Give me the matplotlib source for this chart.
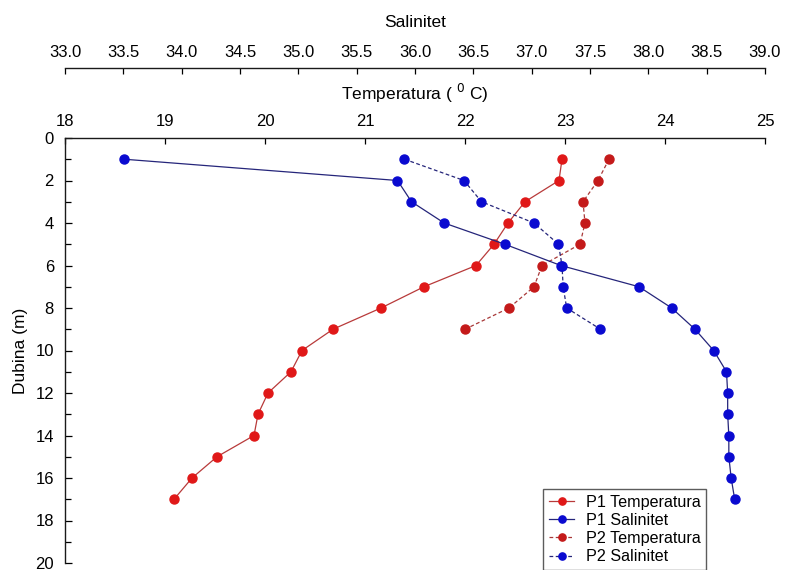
import matplotlib
matplotlib.use("Agg")
import matplotlib.pyplot as plt
from matplotlib.ticker import MultipleLocator

plt.rcParams['font.family'] = ['Liberation Sans', 'DejaVu Sans']

# Depth profiles (m)
depth_p1 = [1, 2, 3, 4, 5, 6, 7, 8, 9, 10, 11, 12, 13, 14, 15, 16, 17]
depth_p2 = [1, 2, 3, 4, 5, 6, 7, 8, 9]

# Temperature (deg C)
temp_p1 = [22.97, 22.94, 22.60, 22.43, 22.29, 22.11, 21.59, 21.16, 20.68,
           20.37, 20.26, 20.03, 19.93, 19.89, 19.52, 19.27, 19.09]
temp_p2 = [23.44, 23.33, 23.18, 23.20, 23.15, 22.77, 22.69, 22.44, 22.00]

# Salinity
sal_p1 = [33.51, 35.85, 35.97, 36.25, 36.77, 37.25, 37.92, 38.20, 38.40,
          38.56, 38.67, 38.68, 38.68, 38.69, 38.69, 38.71, 38.74]
sal_p2 = [35.91, 36.42, 36.57, 37.02, 37.23, 37.26, 37.27, 37.30, 37.59]

temp_ticks = [18, 19, 20, 21, 22, 23, 24, 25]
sal_ticks = [33.0, 33.5, 34.0, 34.5, 35.0, 35.5, 36.0, 36.5, 37.0, 37.5,
             38.0, 38.5, 39.0]
depth_ticks = [0, 2, 4, 6, 8, 10, 12, 14, 16, 18, 20]

W, H = 785, 570
fig = plt.figure(figsize=(W / 100, H / 100), dpi=100)
left, right, top, bottom = 65, 765, 138, 563
ax = fig.add_axes([left / W, 1 - bottom / H, (right - left) / W, (bottom - top) / H])
# Salinity axis sits above the temperature axis
ax2 = ax.twiny()

red1 = '#e01818'
red2 = '#c41a1a'
blue = '#0a0ad0'
line_red1 = '#b83a3a'
line_red2 = '#a83838'
line_blue = '#25257a'
ms = 6.5

lt1, = ax.plot(temp_p1, depth_p1, '-', color=line_red1, lw=0.9,
               marker='o', ms=ms, mfc=red1, mec=red1, label='P1 Temperatura')
lt2, = ax.plot(temp_p2, depth_p2, '--', color=line_red2, lw=0.9, dashes=(3, 2),
               marker='o', ms=ms, mfc=red2, mec=red2, label='P2 Temperatura')
ls1, = ax2.plot(sal_p1, depth_p1, '-', color=line_blue, lw=0.9,
                marker='o', ms=ms, mfc=blue, mec=blue, label='P1 Salinitet')
ls2, = ax2.plot(sal_p2, depth_p2, '--', color=line_blue, lw=0.9, dashes=(3, 2),
                marker='o', ms=ms, mfc=blue, mec=blue, label='P2 Salinitet')

tick_fs = 12
label_fs = 12.5

# Temperature axis (top spine of the main axes)
ax.set_xlim(18, 25)
ax.set_ylim(20, 0)
ax.set_xticks(temp_ticks)
ax.set_yticks(depth_ticks)
ax.yaxis.set_minor_locator(MultipleLocator(1))
ax.xaxis.tick_top()
ax.xaxis.set_label_position('top')
ax.set_xlabel('Temperatura ( $^0$ C)', fontsize=label_fs, labelpad=10)
ax.set_ylabel('Dubina (m)', fontsize=label_fs, labelpad=5)
for s in ('right', 'bottom'):
    ax.spines[s].set_visible(False)
ax.tick_params(axis='x', which='both', direction='in', length=4, width=0.9,
               labelsize=tick_fs, pad=6.5, top=True, bottom=False,
               labeltop=True, labelbottom=False)
ax.tick_params(axis='y', which='major', direction='in', length=5, width=0.9,
               labelsize=tick_fs, pad=8)
ax.tick_params(axis='y', which='minor', direction='in', length=4, width=0.9)

# Salinity axis
ax2.set_xlim(33, 39)
ax2.set_ylim(20, 0)
ax2.set_xticks(sal_ticks)
ax2.set_xticklabels([f'{v:.1f}' for v in sal_ticks])
ax2.spines['top'].set_position(('axes', 1 + 70 / (bottom - top)))
for s in ('right', 'bottom', 'left'):
    ax2.spines[s].set_visible(False)
ax2.set_xlabel('Salinitet', fontsize=label_fs, labelpad=13)
ax2.tick_params(axis='x', direction='in', length=4, width=0.9,
                labelsize=tick_fs, pad=6)

for a in (ax, ax2):
    for s in a.spines.values():
        s.set_linewidth(1.0)
        s.set_color('#1a1a1a')

leg = fig.legend(handles=[lt1, ls1, lt2, ls2], loc='upper left',
                 bbox_to_anchor=(543 / W, 1 - 489 / H), bbox_transform=fig.transFigure,
                 fontsize=11.6, frameon=True, fancybox=False, borderaxespad=0,
                 handlelength=1.6, handletextpad=0.7, labelspacing=0.2,
                 borderpad=0.35, markerscale=0.8)
leg.get_frame().set_edgecolor('#333333')
leg.get_frame().set_linewidth(1.0)

fig.savefig('out.png', dpi=100)
